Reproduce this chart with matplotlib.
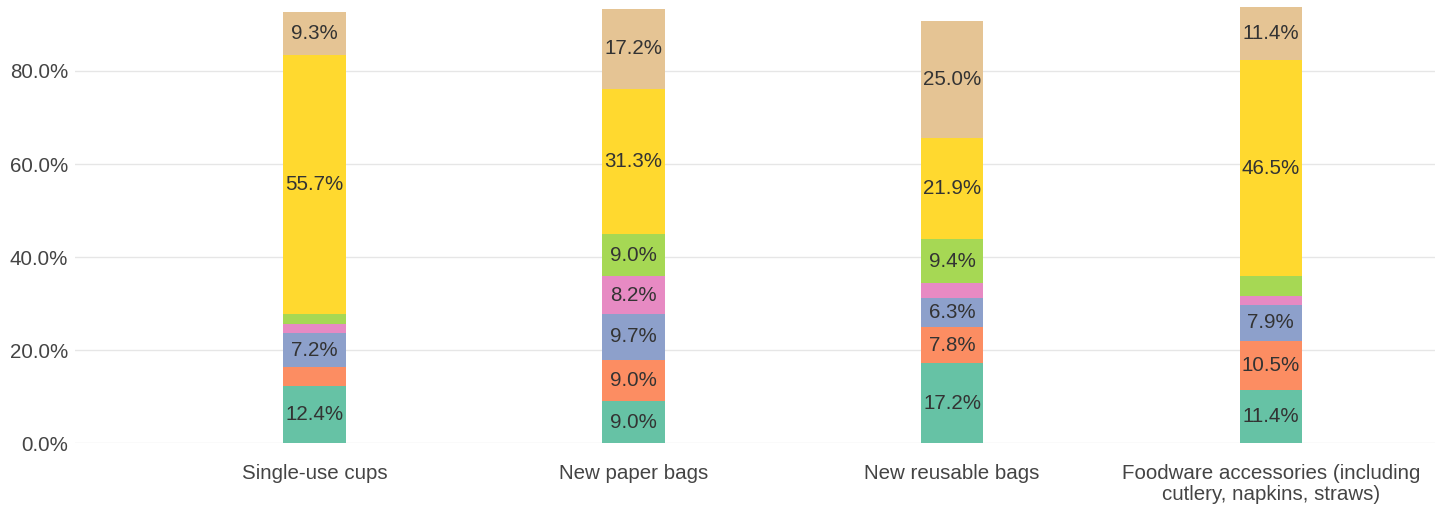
import numpy as np
import matplotlib.pyplot as plt
from matplotlib.ticker import FuncFormatter

plt.rcParams['font.family'] = ['Liberation Sans', 'DejaVu Sans']

categories = ['Single-use cups', 'New paper bags', 'New reusable bags',
              'Foodware accessories (including\ncutlery, napkins, straws)']

# stacked segments, bottom to top (percent)
seg1 = [12.4, 9.0, 17.2, 11.4]
seg2 = [4.0, 9.0, 7.8, 10.5]
seg3 = [7.2, 9.7, 6.3, 7.9]
seg4 = [2.1, 8.2, 3.1, 1.8]
seg5 = [2.0, 9.0, 9.4, 4.3]
seg6 = [55.7, 31.3, 21.9, 46.5]
seg7 = [9.3, 17.2, 25.0, 11.4]
series = [seg1, seg2, seg3, seg4, seg5, seg6, seg7]
colors = ['#66c2a5', '#fc8d62', '#8da0cb', '#e78ac3', '#a6d854', '#ffd92f', '#e5c494']

fig = plt.figure(figsize=(14.35, 5.08), dpi=100)
ax = fig.add_axes([75 / 1435, 1 - 443.3 / 508, 1 - 75 / 1435, 443.3 / 508])

x = np.arange(len(categories))
bottom = np.zeros(len(categories))
for vals, c in zip(series, colors):
    vals = np.array(vals)
    ax.bar(x, vals, 0.196, bottom=bottom, color=c, zorder=3)
    for xi, b, v in zip(x, bottom, vals):
        if v >= 5:
            ax.text(xi, b + v / 2, '%.1f%%' % v, ha='center', va='center',
                    fontsize=14.8, color='#333333', zorder=4)
    bottom += vals

ax.set_xlim(-0.752, 3.515)
ax.set_ylim(0, 95.25)
ax.set_yticks([0, 20, 40, 60, 80])
ax.yaxis.set_major_formatter(FuncFormatter(lambda v, p: '%.1f%%' % v))
ax.set_xticks(x)
ax.set_xticklabels(categories, linespacing=1.1)
ax.grid(axis='y', color='#e6e6e6', linewidth=1, zorder=0)
for s in ax.spines.values():
    s.set_visible(False)
ax.tick_params(axis='y', length=0, pad=5, labelsize=14.8, labelcolor='#444444')
ax.tick_params(axis='x', length=0, pad=15, labelsize=14.8, labelcolor='#444444')

fig.savefig('out.png', dpi=100)
